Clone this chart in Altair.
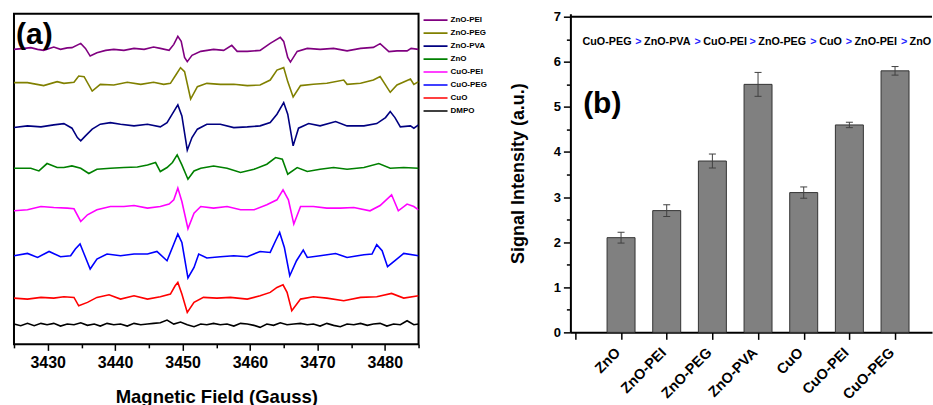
import json
import altair as alt
import pandas as pd

FONT = "Liberation Sans"

# ---------------- panel (a): EPR spectra (field in Gauss, signal in a.u.) ----------------
SERIES = ["ZnO-PEI", "ZnO-PEG", "ZnO-PVA", "ZnO", "CuO-PEI", "CuO-PEG", "CuO", "DMPO"]
COLORS = ["#800080", "#808000", "#000080", "#008000", "#FF00FF", "#0000FF", "#FF0000", "#000000"]
OFFSETS = [295.3, 261.3, 217.7, 176.3, 134.7, 88.7, 46.3, 20.3]

ZNO_PEI = [(3425.0, 0), (3426.5, 1), (3427.5, 1.7), (3428.5, 0), (3429.4, -1), (3430.9, 2.3),
           (3431.9, 0), (3432.9, 1.5), (3433.6, 1.7), (3434.9, 6), (3435.6, 1), (3436.3, -6.7),
           (3437.3, -3.3), (3438.6, -1), (3439.8, 0), (3441.3, -1), (3442.8, 1), (3444.3, 0),
           (3445.7, 2.3), (3446.7, 1), (3448.0, -1), (3448.7, 5), (3449.3, 13), (3449.8, 8),
           (3450.3, -8), (3450.7, -12.3), (3451.4, -6), (3452.7, -2), (3454.6, 0), (3456.1, -1),
           (3457.3, 4), (3458.1, -2), (3459.6, -2), (3461.5, -1), (3463.0, 6), (3464.5, 12),
           (3465.0, 8), (3465.6, -8), (3466.0, -12.7), (3467.0, -2), (3468.5, 1), (3470.4, 0),
           (3472.4, 1), (3474.4, -1.5), (3476.4, 1), (3478.3, 2), (3479.3, 5.7), (3480.6, -2.3),
           (3481.8, -1.5), (3483.3, -1.5), (3483.9, 1), (3485.0, 0)]

ZNO_PEG = [(3425.0, 0.7), (3427.0, 0.7), (3429.4, -2.3), (3431.4, 1.7), (3432.4, 0), (3433.9, 1),
           (3434.6, 7.3), (3435.4, 6.7), (3436.6, -7.7), (3437.8, -1), (3439.8, -1.7), (3441.8, 1),
           (3443.8, -1), (3445.7, 1), (3447.2, -1), (3448.2, 0), (3449.0, 8.3), (3449.7, 15.7),
           (3450.3, 11.7), (3451.2, -15.7), (3452.2, -3.3), (3453.6, 0), (3455.6, -1), (3457.6, -1),
           (3459.6, -2.3), (3461.5, -1.7), (3463.0, 3.3), (3464.0, 13.3), (3465.0, 15.7),
           (3465.6, 1.7), (3466.4, -13.7), (3467.5, -2.3), (3469.4, -1), (3471.4, 0), (3473.9, 3.3),
           (3474.4, -1), (3476.4, 0), (3478.3, 3.3), (3479.3, 6.7), (3480.8, -9), (3481.8, -1.7),
           (3483.8, 4.3), (3484.3, -1), (3485.0, 1.7)]

ZNO_PVA = [(3425.0, -0.7), (3427.0, 1), (3429.0, 0), (3430.9, 2), (3432.4, 3.3), (3433.6, -1.3),
           (3434.4, -10.7), (3434.9, -14), (3435.6, -9), (3436.6, -2.3), (3437.8, 2.7), (3439.3, 4.3),
           (3440.8, 2.7), (3442.8, 1), (3444.8, 2.7), (3446.7, 0), (3447.7, 4.3), (3448.6, 14.3),
           (3449.3, 22), (3449.9, 11), (3450.7, -23.3), (3451.4, -10.7), (3452.2, -2.3),
           (3453.6, 2.7), (3455.6, 2.7), (3457.6, -0.7), (3459.6, 0), (3461.5, 1), (3463.0, 4.3),
           (3464.0, 12.7), (3465.0, 24.3), (3465.6, 12.7), (3466.4, -19), (3467.2, -1.3),
           (3468.7, 3.3), (3470.4, 1), (3472.7, 5.3), (3474.4, 1), (3476.9, 1), (3478.8, 3.3),
           (3480.1, 9.3), (3480.8, 15.3), (3481.5, 9.3), (3482.3, 0), (3483.8, 1), (3484.3, -1.3),
           (3485.0, 2)]

ZNO = [(3425.0, 0), (3427.5, 0), (3428.7, -2.7), (3429.9, 4.7), (3431.4, 0.7), (3432.4, 0.7),
       (3433.6, 2.3), (3434.9, 0), (3436.1, -5.3), (3437.3, -1), (3439.3, 0), (3441.3, 0.7),
       (3443.3, 1.3), (3444.8, 3.3), (3446.0, 5.7), (3446.7, -3.3), (3447.7, 0.7), (3448.5, 5.7),
       (3449.2, 13.3), (3449.9, 3.3), (3450.8, -11), (3451.7, -2.7), (3452.7, 0), (3454.6, 2.3),
       (3456.6, 0), (3458.6, -4.3), (3460.6, -1), (3462.5, 4), (3463.8, 10.7), (3464.8, 9),
       (3465.6, -6), (3467.0, 0.7), (3468.5, -3.3), (3470.4, -1), (3472.4, 0.7), (3474.4, -1),
       (3476.9, 0.7), (3479.1, 4.7), (3480.8, 0), (3482.8, 0.7), (3485.0, 0)]

CUO_PEI = [(3425.0, -1), (3427.0, 0), (3429.0, 3.3), (3430.9, 2.3), (3432.9, 1.7), (3433.9, 1),
           (3434.9, -11.7), (3435.9, -5), (3437.3, 0), (3439.3, 3.3), (3441.3, 3.3), (3442.8, 4.3),
           (3444.8, 1.7), (3446.7, 3.3), (3448.0, 5.7), (3448.7, 10), (3449.3, 21.7), (3449.9, 8.3),
           (3450.8, -19), (3451.7, -3.3), (3452.7, 3.3), (3454.6, 1.7), (3456.6, 3.3), (3458.6, 0),
           (3460.6, 0), (3462.5, 5), (3464.0, 10), (3464.9, 20), (3465.7, 10), (3466.5, -14.3),
           (3467.5, 3.3), (3469.4, 3.3), (3471.4, 1.7), (3473.4, 1.7), (3475.4, 2.3), (3477.8, -1),
           (3479.3, 4.3), (3481.0, 15), (3482.0, -1), (3483.3, 5.7), (3484.3, 3.3), (3485.0, 0)]

CUO_PEG = [(3425.0, 0), (3427.0, 2.3), (3428.5, -1.7), (3430.2, 4.3), (3431.9, -1), (3433.4, 0),
           (3434.1, 6.7), (3434.8, 11.7), (3435.4, 1.7), (3436.3, -13.3), (3437.3, -3.3),
           (3438.8, 1.7), (3440.8, 0), (3442.8, 1.7), (3444.8, 1.7), (3446.2, 4.3), (3447.7, -5),
           (3448.6, 10), (3449.3, 21.7), (3449.9, 13.3), (3450.8, -22.3), (3451.7, -11.7),
           (3452.4, 1.7), (3453.6, -2.3), (3455.6, -1), (3457.6, 0), (3459.6, -1), (3461.5, 4.3),
           (3463.0, 3.3), (3463.8, 15), (3464.4, 23.3), (3465.1, 8.3), (3465.9, -20), (3466.9, -5),
           (3467.9, 5.7), (3468.5, -1.7), (3470.4, 0), (3472.7, 2.3), (3474.4, -1.7), (3476.9, 1),
           (3478.1, 1.7), (3478.8, 11), (3479.6, 5), (3480.4, -11), (3481.5, -5), (3482.8, 2.3),
           (3485.0, 0)]

CUO = [(3425.0, 0), (3427.0, -1), (3429.0, 0.7), (3430.9, 0), (3432.4, 1.3), (3433.9, 0.7),
       (3434.6, -7.7), (3435.9, -4.3), (3437.3, 0.7), (3439.1, 3.3), (3440.8, -1), (3442.8, 2.3),
       (3444.8, -1), (3446.7, 1.3), (3448.2, 4), (3448.9, 12.3), (3449.3, 15.7), (3449.9, 4),
       (3450.7, -14.3), (3451.7, -4.3), (3453.1, 0.7), (3455.1, 0), (3457.1, 0.7), (3459.6, -1),
       (3461.5, 2.3), (3463.0, 5.7), (3464.0, 10.7), (3464.9, 13.3), (3465.5, 5.7),
       (3466.2, -12.7), (3467.5, -1), (3469.4, 1.3), (3471.4, 0), (3473.9, -2.7), (3476.4, 0.7),
       (3478.8, 1.3), (3481.0, 4.7), (3482.8, 0), (3485.0, 2.3)]

DMPO = [(3425.0, 0), (3426.0, -1.7), (3427.0, 0.7), (3428.0, -1.7), (3429.0, 0.7), (3429.9, -0.7),
        (3430.9, 0.7), (3431.9, -2), (3432.9, 0), (3433.9, -0.7), (3434.9, 1.3), (3435.9, -1.3),
        (3436.9, 0), (3437.8, -2), (3438.8, 0.7), (3439.8, -0.7), (3440.8, 0), (3441.8, -2),
        (3442.8, 0.7), (3443.8, -0.7), (3444.8, 0), (3445.7, 0.7), (3446.7, 1.3), (3447.7, 4),
        (3448.7, 0), (3449.7, 2), (3450.7, -0.7), (3451.7, -2.7), (3452.7, 0), (3453.6, -0.7),
        (3454.6, 0.7), (3455.6, -0.7), (3456.6, 0), (3457.6, -2), (3458.6, 0.7), (3459.6, 0),
        (3460.6, -1.3), (3461.5, -3.3), (3462.5, 0), (3463.5, -1.3), (3464.5, 1.3), (3465.5, -0.7),
        (3466.5, 0), (3467.5, 0.7), (3468.5, -0.7), (3469.4, 0), (3470.4, -2), (3471.4, 0.7),
        (3472.4, -1.3), (3473.4, -2.7), (3474.4, 0), (3475.4, -0.7), (3476.4, 0.7), (3477.4, -1.3),
        (3478.3, 0), (3479.3, 0.7), (3480.3, -2), (3481.3, 0), (3482.3, -0.7), (3483.3, 3.3),
        (3484.3, -0.7), (3485.0, 0)]

SPECTRA = [ZNO_PEI, ZNO_PEG, ZNO_PVA, ZNO, CUO_PEI, CUO_PEG, CUO, DMPO]

MAJOR_A = [3430, 3440, 3450, 3460, 3470, 3480]
MINOR_A = [3425, 3435, 3445, 3455, 3465, 3475, 3485]

# ---------------- panel (b): signal intensity bars ----------------
CATEGORIES = ["ZnO", "ZnO-PEI", "ZnO-PEG", "ZnO-PVA", "CuO", "CuO-PEI", "CuO-PEG"]
INTENSITY = [2.1, 2.7, 3.8, 5.5, 3.1, 4.6, 5.8]
ERROR = [0.12, 0.13, 0.155, 0.265, 0.125, 0.06, 0.095]
MAJOR_B = [0, 1, 2, 3, 4, 5, 6, 7]
MINOR_B = [0.5, 1.5, 2.5, 3.5, 4.5, 5.5, 6.5]

RANK_TEXT = ["CuO-PEG", ">", "ZnO-PVA", ">", "CuO-PEI", ">", "ZnO-PEG", ">", "CuO", ">",
             "ZnO-PEI", ">", "ZnO"]
RANK_POS = [0.155, 1.313, 1.504, 2.611, 2.802, 3.815, 4.006, 5.143, 5.340, 5.921, 6.113,
            7.128, 7.319]

# ---------------- build panel (a) ----------------
rows = []
for name, off, spec in zip(SERIES, OFFSETS, SPECTRA):
    for i, (g, s) in enumerate(spec):
        rows.append({"series": name, "field": g, "y": off + s, "order": i})
df_a = pd.DataFrame(rows)

x_a = alt.Scale(domain=[3425, 3485], nice=False, zero=False)
y_a = alt.Scale(domain=[0, 331], nice=False, zero=False)

axis_a = alt.Axis(values=MAJOR_A, format="d", title="Magnetic Field (Gauss)", grid=False,
                  orient="bottom", domain=False, tickSize=6, tickWidth=1.5, tickColor="black",
                  labelFont=FONT, labelFontSize=16, labelFontWeight="bold", labelColor="black",
                  labelPadding=4, titleFont=FONT, titleFontSize=18.5, titleFontWeight="bold",
                  titleColor="black", titlePadding=17)

legend_a = alt.Legend(title=None, orient="none", legendX=409, legendY=0, padding=0,
                      symbolType="stroke", symbolSize=576, symbolStrokeWidth=1.6,
                      clipHeight=12.86, rowPadding=0, labelFont=FONT, labelFontSize=8,
                      labelFontWeight="bold", labelColor="black", labelOffset=2, symbolOffset=0)

lines = alt.Chart(df_a).mark_line(strokeWidth=1.6, clip=True).encode(
    x=alt.X("field:Q", scale=x_a, axis=axis_a),
    y=alt.Y("y:Q", scale=y_a, axis=None),
    color=alt.Color("series:N", scale=alt.Scale(domain=SERIES, range=COLORS), legend=legend_a),
    order="order:Q",
)

minor_a = alt.Chart(pd.DataFrame({"field": MINOR_A})).mark_tick(opacity=0).encode(
    x=alt.X("field:Q", scale=x_a,
            axis=alt.Axis(values=MINOR_A, orient="bottom", labels=False, domain=False,
                          grid=False, tickSize=3.5, tickWidth=1.5, tickColor="black",
                          title=None)),
)

label_a = alt.Chart(pd.DataFrame({"field": [3425.3], "y": [310.0], "t": ["(a)"]})).mark_text(
    align="left", baseline="middle", font=FONT, fontSize=30, fontWeight="bold", color="black"
).encode(
    x=alt.X("field:Q", scale=x_a, axis=None),
    y=alt.Y("y:Q", scale=y_a, axis=None),
    text="t:N",
)

panel_a = alt.layer(lines, minor_a, label_a).resolve_axis(x="independent").properties(
    width=405, height=331, view=alt.ViewBackground(stroke="black", strokeWidth=2)
)

# ---------------- build panel (b) ----------------
df_b = pd.DataFrame({
    "cat": CATEGORIES,
    "pos": list(range(1, len(CATEGORIES) + 1)),
    "val": INTENSITY,
    "lo": [v - e for v, e in zip(INTENSITY, ERROR)],
    "hi": [v + e for v, e in zip(INTENSITY, ERROR)],
})

x_b = alt.Scale(domain=[0, 7.70], nice=False, zero=False)
y_b = alt.Scale(domain=[0, 7.067], nice=False, zero=False)

label_expr = ("datum.value >= 1 && datum.value <= 7 ? " + json.dumps(CATEGORIES)
              + "[round(datum.value) - 1] : ''")

axis_xb = alt.Axis(values=MAJOR_B, labelExpr=label_expr, labelAngle=-45, title=None, grid=False,
                   orient="bottom", tickSize=7, tickWidth=1.5, tickColor="black", domainWidth=2,
                   domainColor="black", labelFont=FONT, labelFontSize=14.5,
                   labelFontWeight="bold", labelColor="black", labelPadding=6,
                   labelAlign="right", labelBaseline="top", labelOffset=-8,
                   labelOverlap=False, labelBound=False)
axis_yb = alt.Axis(values=MAJOR_B, format="d", title="Signal Intensity (a.u.)", grid=False,
                   orient="left", tickSize=7, tickWidth=1.5, tickColor="black", domainWidth=2,
                   domainColor="black", labelFont=FONT, labelFontSize=13,
                   labelFontWeight="bold", labelColor="black", labelPadding=3,
                   titleFont=FONT, titleFontSize=18, titleFontWeight="bold", titleColor="black",
                   titlePadding=26)

bars = alt.Chart(df_b).mark_bar(size=28, color="#808080", stroke="#333333", strokeWidth=1).encode(
    x=alt.X("pos:Q", scale=x_b, axis=axis_xb),
    y=alt.Y("val:Q", scale=y_b, axis=axis_yb),
)

err = alt.Chart(df_b).mark_rule(color="#404040", strokeWidth=1).encode(
    x=alt.X("pos:Q", scale=x_b, axis=None),
    y=alt.Y("lo:Q", scale=y_b, axis=None),
    y2="hi:Q",
)
cap_lo = alt.Chart(df_b).mark_tick(orient="horizontal", size=7, thickness=1, color="#404040",
                                   opacity=1).encode(
    x=alt.X("pos:Q", scale=x_b, axis=None),
    y=alt.Y("lo:Q", scale=y_b, axis=None),
)
cap_hi = alt.Chart(df_b).mark_tick(orient="horizontal", size=7, thickness=1, color="#404040",
                                   opacity=1).encode(
    x=alt.X("pos:Q", scale=x_b, axis=None),
    y=alt.Y("hi:Q", scale=y_b, axis=None),
)

top_rule = alt.Chart(pd.DataFrame({"val": [7]})).mark_rule(color="black", strokeWidth=2).encode(
    y=alt.Y("val:Q", scale=y_b, axis=None),
)

minor_b = alt.Chart(pd.DataFrame({"val": MINOR_B})).mark_tick(opacity=0).encode(
    y=alt.Y("val:Q", scale=y_b,
            axis=alt.Axis(values=MINOR_B, orient="left", labels=False, domain=False, grid=False,
                          tickSize=4, tickWidth=1.5, tickColor="black", title=None)),
)

label_b = alt.Chart(pd.DataFrame({"pos": [0.17], "val": [5.07], "t": ["(b)"]})).mark_text(
    align="left", baseline="middle", font=FONT, fontSize=30, fontWeight="bold", color="black"
).encode(
    x=alt.X("pos:Q", scale=x_b, axis=None),
    y=alt.Y("val:Q", scale=y_b, axis=None),
    text="t:N",
)

df_rank = pd.DataFrame({
    "pos": RANK_POS,
    "val": [6.43] * len(RANK_POS),
    "t": RANK_TEXT,
    "c": ["#1F1FFF" if s == ">" else "#000000" for s in RANK_TEXT],
})
rank = alt.Chart(df_rank).mark_text(align="left", baseline="middle", font=FONT, fontSize=10.8,
                                    fontWeight="bold", clip=True).encode(
    x=alt.X("pos:Q", scale=x_b, axis=None),
    y=alt.Y("val:Q", scale=y_b, axis=None),
    text="t:N",
    color=alt.Color("c:N", scale=None, legend=None),
)

panel_b = alt.layer(bars, err, cap_lo, cap_hi, top_rule, minor_b, label_b, rank).resolve_axis(
    x="independent", y="independent"
).properties(width=362, height=319)

chart = alt.hconcat(panel_a, panel_b, spacing=152, bounds="flush", center=False).resolve_scale(
    color="independent"
).resolve_legend(color="independent").properties(
    padding={"left": 12, "top": 10.5, "right": 0, "bottom": 0}
).configure(font=FONT).configure_view(strokeWidth=0)

chart.save("out.html", embed_options={"renderer": "svg", "actions": False})
